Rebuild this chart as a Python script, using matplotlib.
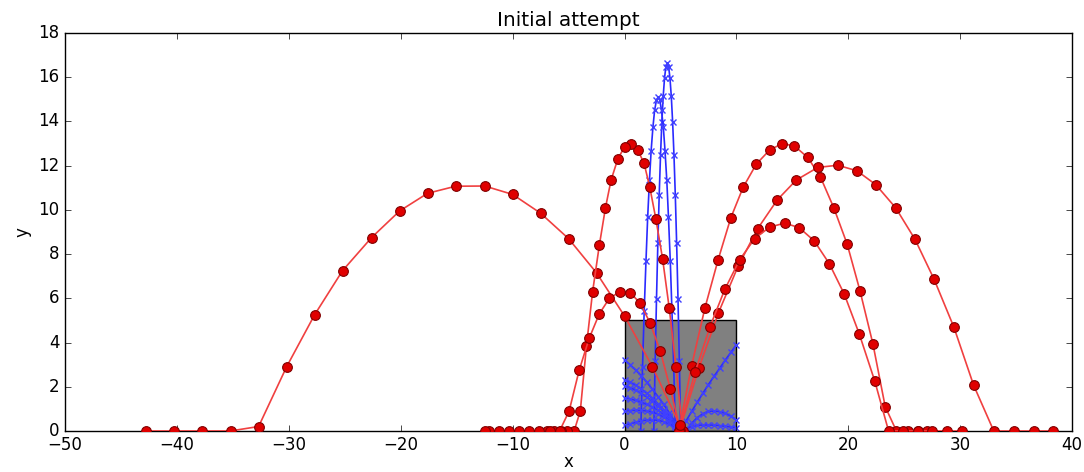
import matplotlib
matplotlib.use("Agg")
import matplotlib.pyplot as plt
from matplotlib.patches import Rectangle

# ---------------- data ----------------
title = "Initial attempt"
x_label = "x"
y_label = "y"
x_ticks = [-50, -40, -30, -20, -10, 0, 10, 20, 30, 40]
y_ticks = [0, 2, 4, 6, 8, 10, 12, 14, 16, 18]

# target box
box_x, box_y, box_w, box_h = 0, 0, 10, 5

# red (successful) trajectories
red_a_x = [5.0, 2.5, 0.0, -2.5, -5.0, -7.5, -10.0, -12.5, -15.1, -17.6, -20.1, -22.6,
           -25.2, -27.7, -30.2, -32.7, -35.2, -37.8, -40.3, -42.8]
red_a_y = [0.2, 2.9, 5.2, 7.15, 8.7, 9.85, 10.7, 11.08, 11.07, 10.75, 9.95, 8.75,
           7.25, 5.25, 2.9, 0.2, 0, 0, 0, 0]

red_b_x = [5.2, 4.6, 4.0, 3.4, 2.8, 2.25, 1.75, 1.2, 0.6, 0.0, -0.6, -1.2, -1.7, -2.25,
           -2.85, -3.4, -3.95, -4.5, -5.1, -5.7, -6.3, -6.9]
red_b_y = [0.0, 2.9, 5.55, 7.8, 9.6, 11.05, 12.1, 12.7, 13.0, 12.85, 12.3, 11.35, 10.1, 8.4,
           6.3, 3.85, 0.9, 0, 0, 0, 0, 0]

red_c_x = [5.0, 4.1, 3.2, 2.3, 1.4, 0.5, -0.4, -1.35, -2.25, -3.15, -4.05, -4.95, -5.8,
           -6.7, -7.6, -8.5, -9.4, -10.3, -11.2, -12.1, -12.5]
red_c_y = [0.0, 1.9, 3.6, 4.87, 5.78, 6.26, 6.3, 6.0, 5.3, 4.2, 2.75, 0.9, 0,
           0, 0, 0, 0, 0, 0, 0, 0]

red_d_x = [4.85, 6.0, 7.18, 8.37, 9.5, 10.6, 11.78, 12.97, 14.1, 15.19, 16.38, 17.5, 18.7,
           19.9, 21.04, 22.2, 23.3, 24.3, 25.3, 26.2, 27.0]
red_d_y = [0.0, 2.95, 5.55, 7.75, 9.64, 11.02, 12.07, 12.71, 13.0, 12.89, 12.37, 11.5, 10.1,
           8.45, 6.35, 3.94, 1.1, 0, 0, 0, 0]

red_e_x = [4.9, 6.65, 8.4, 10.15, 11.9, 13.65, 15.35, 17.27, 19.05, 20.77, 22.46, 24.24,
           25.96, 27.66, 29.44, 31.2, 33.0, 34.8, 36.6, 38.3]
red_e_y = [0.0, 2.85, 5.35, 7.45, 9.15, 10.45, 11.35, 11.92, 12.02, 11.77, 11.14, 10.09,
           8.67, 6.87, 4.69, 2.07, 0, 0, 0, 0]

red_f_x = [5.0, 6.3, 7.63, 8.96, 10.3, 11.63, 12.97, 14.3, 15.6, 16.95, 18.3, 19.64, 20.98,
           22.37, 23.6, 24.9, 26.2, 27.5, 28.8, 30.2]
red_f_y = [0.25, 2.65, 4.7, 6.4, 7.75, 8.7, 9.22, 9.4, 9.2, 8.6, 7.57, 6.19, 4.39,
           2.25, 0, 0, 0, 0, 0, 0]

red_x = [red_a_x, red_b_x, red_c_x, red_d_x, red_e_x, red_f_x]
red_y = [red_a_y, red_b_y, red_c_y, red_d_y, red_e_y, red_f_y]

# blue (failed) trajectories
blue_t1_x = [5.02, 4.90, 4.78, 4.66, 4.54, 4.42, 4.30, 4.18, 4.06, 3.94, 3.82, 3.70, 3.58,
             3.46, 3.34, 3.22, 3.10, 2.98, 2.86, 2.74, 2.62]
blue_t1_y = [0, 3.16, 5.99, 8.49, 10.66, 12.49, 13.99, 15.15, 15.98, 16.48, 16.65, 16.48, 15.98,
             15.15, 13.99, 12.49, 10.66, 8.49, 5.99, 3.16, 0]

blue_t2_x = [4.55, 4.40, 4.24, 4.09, 3.93, 3.78, 3.62, 3.47, 3.31, 3.16, 3.0, 2.85, 2.69,
             2.54, 2.38, 2.23, 2.07, 1.92, 1.76, 1.61, 1.45]
blue_t2_y = [0, 2.87, 5.44, 7.70, 9.66, 11.33, 12.68, 13.74, 14.5, 14.95, 15.1, 14.95, 14.5,
             13.74, 12.68, 11.33, 9.66, 7.70, 5.44, 2.87, 0]

left_x = [5.0, 4.5, 4.0, 3.5, 3.0, 2.5, 2.0, 1.5, 1.0, 0.5, 0.0]
blue_b1_y = [0, 0.42, 0.82, 1.2, 1.55, 1.88, 2.2, 2.5, 2.75, 3.0, 3.2]
blue_b2_y = [0, 0.34, 0.66, 0.95, 1.22, 1.47, 1.7, 1.9, 2.07, 2.2, 2.3]
blue_b3_y = [0, 0.32, 0.61, 0.88, 1.12, 1.34, 1.53, 1.7, 1.84, 1.96, 2.05]
blue_b4_y = [0, 0.28, 0.53, 0.75, 0.93, 1.08, 1.2, 1.3, 1.38, 1.45, 1.5]
blue_b5_y = [0, 0.25, 0.46, 0.63, 0.76, 0.85, 0.9, 0.93, 0.93, 0.92, 0.9]
blue_b6_y = [0, 0.18, 0.32, 0.42, 0.48, 0.5, 0.49, 0.45, 0.39, 0.32, 0.25]

right_x = [5.0, 5.5, 6.0, 6.5, 7.0, 7.5, 8.0, 8.5, 9.0, 9.5, 10.0]
blue_b7_y = [0, 0.45, 0.88, 1.3, 1.7, 2.1, 2.47, 2.83, 3.2, 3.55, 3.9]
blue_b9_y = [0, 0.12, 0.2, 0.25, 0.27, 0.27, 0.26, 0.24, 0.21, 0.18, 0.15]

blue_b8_x = [5.5, 6.0, 6.5, 7.0, 7.5, 8.0, 8.5, 9.0, 9.5, 10.0]
blue_b8_y = [0, 0.35, 0.6, 0.78, 0.88, 0.9, 0.87, 0.8, 0.67, 0.5]

blue_x = [blue_t1_x, blue_t2_x, left_x, left_x, left_x, left_x, left_x, left_x,
          right_x, blue_b8_x, right_x]
blue_y = [blue_t1_y, blue_t2_y, blue_b1_y, blue_b2_y, blue_b3_y, blue_b4_y, blue_b5_y,
          blue_b6_y, blue_b7_y, blue_b8_y, blue_b9_y]

# ---------------- plot ----------------
plt.style.use("classic")
plt.rcParams["figure.facecolor"] = "white"
plt.rcParams["savefig.facecolor"] = "white"

fig = plt.figure(figsize=(10.84, 4.72), dpi=100)
ax = fig.add_axes([0.060, 0.087, 0.929, 0.843])

ax.add_patch(Rectangle((box_x, box_y), box_w, box_h, facecolor="#808080",
                       edgecolor="black", linewidth=1, zorder=1))

for xs, ys in zip(blue_x, blue_y):
    ax.plot(xs, ys, color="#2a2aff", linewidth=1.2, marker="x", markersize=5,
            markeredgecolor="#4040ff", markeredgewidth=1, zorder=2)

for xs, ys in zip(red_x, red_y):
    ax.plot(xs, ys, color="#f04040", linewidth=1.2, marker="o", markersize=7,
            markerfacecolor="#e00000", markeredgecolor="#800000", markeredgewidth=0.8,
            zorder=3)

ax.set_xlim(-50, 40)
ax.set_ylim(0, 18)
ax.set_xticks(x_ticks)
ax.set_yticks(y_ticks)
ax.set_title(title)
ax.set_xlabel(x_label, labelpad=-1)
ax.set_ylabel(y_label)

fig.savefig("out.png", dpi=100)
